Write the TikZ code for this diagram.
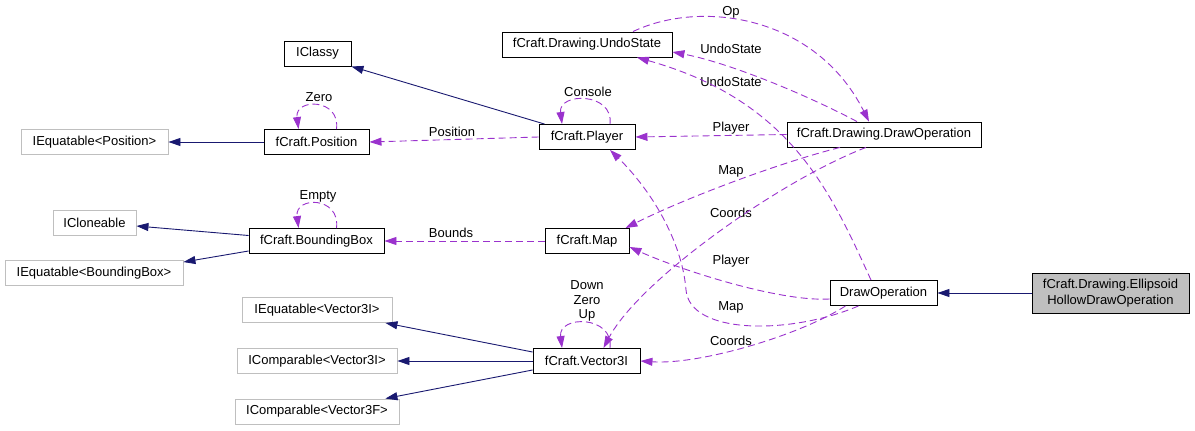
\documentclass[tikz,border=0pt]{standalone}
\usepackage{fontspec}
\setmainfont{Liberation Sans}
\usetikzlibrary{arrows.meta}
\definecolor{edgeblue}{HTML}{191970}
\definecolor{edgepurple}{HTML}{9A32CD}
\definecolor{boxgray}{HTML}{BFBFBF}
\newcommand\fsz{\fontsize{13}{16}\selectfont}
\begin{document}
\begin{tikzpicture}[x=1pt,y=-1pt,
  box/.style={draw=black, line width=0.9pt, minimum height=25pt, inner sep=1pt, font=\fsz, fill=white},
  ext/.style={box, draw=boxgray},
  lbl/.style={font=\fsz, inner sep=0pt},
  inh/.style={draw=edgeblue, line width=0.9pt, -{Triangle[length=12pt,width=8pt]}},
  dep/.style={draw=edgepurple, line width=0.9pt, dash pattern=on 7pt off 4pt, -{Triangle[length=12pt,width=8pt]}}]
\useasboundingbox (0,0) rectangle (1195,431);
% nodes
\node[box, minimum width=170pt] (undo) at (587,44.5) {fCraft.Drawing.UndoState};
\node[box, minimum width=67pt] (iclassy) at (317.5,53.5) {IClassy};
\node[ext, minimum width=147pt] (ieqpos) at (94.5,142) {IEquatable<Position>};
\node[box, minimum width=105pt] (position) at (316.5,142) {fCraft.Position};
\node[box, minimum width=96pt] (player) at (587,137) {fCraft.Player};
\node[box, minimum width=194pt] (ddrawop) at (884,134.5) {fCraft.Drawing.DrawOperation};
\node[ext, minimum width=83pt] (icloneable) at (94.5,222.5) {ICloneable};
\node[box, minimum width=135pt] (bbox) at (316.5,241) {fCraft.BoundingBox};
\node[ext, minimum width=178pt] (ieqbb) at (94,273) {IEquatable<BoundingBox>};
\node[box, minimum width=84pt] (map) at (587,241) {fCraft.Map};
\node[box, minimum width=107pt] (drawop) at (883.5,293) {DrawOperation};
\node[box, fill=boxgray, minimum width=157pt, minimum height=40pt, align=center] (ell) at (1110.5,293) {fCraft.Drawing.Ellipsoid\\HollowDrawOperation};
\node[ext, minimum width=150pt] (ieqv3i) at (317,310) {IEquatable<Vector3I>};
\node[ext, minimum width=160pt] (icmpv3i) at (317,361) {IComparable<Vector3I>};
\node[box, minimum width=107pt] (v3i) at (586.5,361) {fCraft.Vector3I};
\node[ext, minimum width=164pt] (icmpv3f) at (317,411.5) {IComparable<Vector3F>};
% labels
\node[lbl] (lop) at (731,12) {Op};
\node[lbl] (lundo1) at (731,49) {UndoState};
\node[lbl] (lundo2) at (731,82) {UndoState};
\node[lbl] (lplayer1) at (731,128) {Player};
\node[lbl] (lmap1) at (731,171) {Map};
\node[lbl] (lcoords1) at (731,213) {Coords};
\node[lbl] (lplayer2) at (731,261) {Player};
\node[lbl] (lmap2) at (731,307) {Map};
\node[lbl] (lcoords2) at (731,341) {Coords};
\node[lbl] (lposition) at (452,132) {Position};
\node[lbl] (lbounds) at (451,233) {Bounds};
\node[lbl] (lzero) at (319,97) {Zero};
\node[lbl] (lconsole) at (588,92) {Console};
\node[lbl] (lempty) at (318,196) {Empty};
\node[lbl, align=center, font=\fontsize{13}{14.5}\selectfont] (ldzu) at (587,301) {Down\\Zero\\Up};
% inheritance
\draw[inh] (ell) -- (drawop);
\draw[inh] (position) -- (ieqpos);
\draw[inh] ([xshift=6pt]player.north west) -- (iclassy.south east);
\draw[inh] ([yshift=5.5pt]bbox.west) -- ([yshift=-3.5pt]icloneable.east);
\draw[inh] ([yshift=-10pt]bbox.west) -- ([yshift=-2pt]ieqbb.north east);
\draw[inh] ([yshift=9pt]v3i.west) -- ([xshift=-7pt]ieqv3i.south east);
\draw[inh] (v3i) -- (icmpv3i);
\draw[inh] ([yshift=-9pt]v3i.west) -- ([xshift=-14pt]icmpv3f.north east);
% self loops
\draw[dep] ([xshift=20pt]position.north) .. controls +(4,-31) and +(-4,-31) .. ([xshift=-18pt]position.north);
\draw[dep] ([xshift=23pt]player.north) .. controls +(4,-32) and +(-4,-32) .. ([xshift=-25pt]player.north);
\draw[dep] ([xshift=20pt]bbox.north) .. controls +(4,-32) and +(-4,-32) .. ([xshift=-18pt]bbox.north);
\draw[dep] ([xshift=23.5pt]v3i.north) .. controls +(4,-33) and +(-4,-33) .. ([xshift=-24.5pt]v3i.north);
% usage
\draw[dep] (player.west) -- (position.east);
\draw[dep] (map) -- (bbox);
\draw[dep] (ddrawop.west) -- (player.east);
\draw[dep] ([xshift=-27pt]ddrawop.north) .. controls +(-57,-30) and +(53,10) .. ([yshift=-7.5pt]undo.east);
\draw[dep] ([xshift=46pt]undo.north) .. controls +(67,-32) and +(-54,-107) .. ([xshift=-15pt]ddrawop.north);
\draw[dep] ([xshift=-12.5pt]drawop.north) .. controls +(-41,-90) and +(153,43) .. ([xshift=50pt]undo.south);
\draw[dep] ([xshift=-44pt]ddrawop.south) .. controls +(-60,15) and +(60,-30) .. ([xshift=-4pt]map.north east);
\draw[dep] ([xshift=-18pt]ddrawop.south) .. controls +(-86,33) and +(36,-68) .. ([xshift=17pt]v3i.north);
\draw[dep] ([yshift=-6pt]drawop.west) .. controls +(-50,3) and +(51,23) .. ([yshift=-6pt]map.east);
\coordinate (pbend) at (686,290);
\draw[dep] ([xshift=-25pt]drawop.south) .. controls +(-68,29) and +(4,45) .. (pbend) .. controls +(-4,-50) and +(40,39) .. ([xshift=23pt]player.south);
\draw[dep] ([xshift=-38pt]drawop.south) .. controls +(-45,29) and +(60,4) .. (v3i.east);
\end{tikzpicture}
\end{document}
